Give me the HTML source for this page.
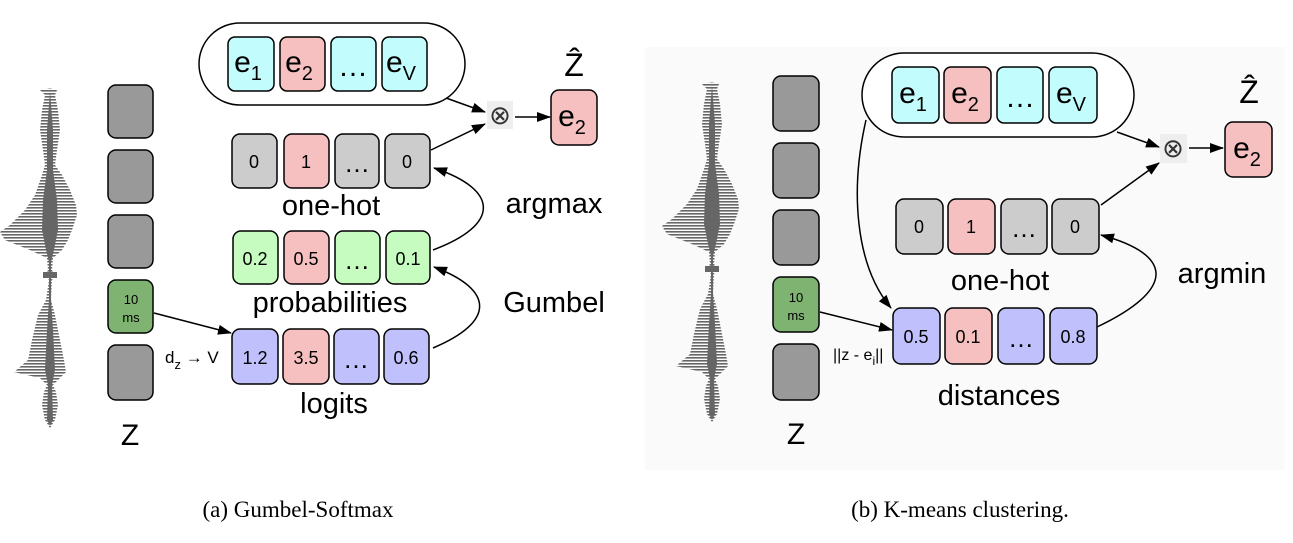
<!DOCTYPE html>
<html><head><meta charset="utf-8"><style>
html,body{margin:0;padding:0;background:#fff;}
svg{display:block;font-family:"Liberation Sans",sans-serif;}
</style></head><body>
<svg width="1293" height="543" viewBox="0 0 1293 543" xmlns="http://www.w3.org/2000/svg">
<defs>
<marker id="ar" markerWidth="14" markerHeight="10" refX="13" refY="5" orient="auto" markerUnits="userSpaceOnUse">
<path d="M0,0 L14,5 L0,10 z" fill="#000"/></marker>
<pattern id="wv" width="6" height="3" patternUnits="userSpaceOnUse"><rect width="6" height="1.6" fill="#666"/></pattern>
<g id="wave">
<polygon points="50,88 57,90 55,95 58,110 60,130 57,150 55,165 62,175 70,190 76,205 77,215 72,230 68,240 62,250 53,258 52,270 55,275 52,280 51,300 55,315 60,340 64,360 66,372 58,380 53,385 56,392 58,405 55,420 50,428 45,420 42,405 44,392 47,385 40,378 14,372 28,360 32,340 38,315 46,300 49,280 45,275 48,270 47,258 30,250 5,240 0,232 10,225 25,210 35,195 42,175 45,165 43,150 40,130 42,110 45,95 40,90" fill="url(#wv)"/>
<polygon points="50,92 53,130 53,170 57,200 58,230 54,250 51,262 51,300 53,330 55,370 52,385 53,420 50,426 47,420 48,385 45,370 47,330 49,300 49,262 46,250 42,230 43,200 47,170 47,130" fill="#666"/>
<rect x="43" y="272" width="14" height="6" fill="#666"/>
</g>
</defs>
<rect x="645" y="47" width="640" height="423" fill="#fafafa"/>

<!-- LEFT PANEL -->
<use href="#wave"/>
<g stroke="#000" stroke-width="1.5">
<rect x="108" y="85" width="45" height="53" rx="8" fill="#999"/>
<rect x="108" y="150" width="45" height="53" rx="8" fill="#999"/>
<rect x="108" y="215" width="45" height="53" rx="8" fill="#999"/>
<rect x="108" y="280" width="45" height="53" rx="8" fill="#7fb371"/>
<rect x="108" y="345" width="45" height="55" rx="8" fill="#999"/>
</g>
<text x="131" y="304" font-size="13" text-anchor="middle">10</text>
<text x="131" y="322" font-size="13" text-anchor="middle">ms</text>
<text x="130" y="445" font-size="30" text-anchor="middle">Z</text>

<rect x="199" y="23" width="266" height="82" rx="41" fill="#fff" stroke="#000" stroke-width="1.5"/>
<g stroke="#000" stroke-width="1.5">
<rect x="228" y="37" width="46" height="54" rx="7" fill="#c3fcfc"/>
<rect x="280" y="37" width="45" height="54" rx="7" fill="#f6c0c0"/>
<rect x="331" y="37" width="45" height="54" rx="7" fill="#c3fcfc"/>
<rect x="382" y="37" width="45" height="54" rx="7" fill="#c3fcfc"/>
</g>
<g font-size="30" text-anchor="middle">
<text x="248" y="72">e<tspan font-size="20" dy="8">1</tspan></text>
<text x="299" y="72">e<tspan font-size="20" dy="8">2</tspan></text>
<text x="353" y="76">…</text>
<text x="401" y="72">e<tspan font-size="20" dy="8">V</tspan></text>
</g>

<g stroke="#000" stroke-width="1.5">
<rect x="232" y="134" width="45" height="54" rx="8" fill="#ccc"/>
<rect x="284" y="134" width="45" height="54" rx="8" fill="#f6c0c0"/>
<rect x="335" y="134" width="44" height="54" rx="8" fill="#ccc"/>
<rect x="385" y="134" width="45" height="54" rx="8" fill="#ccc"/>
<rect x="233" y="231" width="45" height="53" rx="8" fill="#c6fcc0"/>
<rect x="284" y="231" width="45" height="53" rx="8" fill="#f6c0c0"/>
<rect x="335" y="231" width="45" height="53" rx="8" fill="#c6fcc0"/>
<rect x="386" y="231" width="44" height="53" rx="8" fill="#c6fcc0"/>
<rect x="232" y="329" width="46" height="55" rx="8" fill="#c0c0fc"/>
<rect x="283" y="329" width="46" height="55" rx="8" fill="#f6c0c0"/>
<rect x="334" y="329" width="45" height="55" rx="8" fill="#c0c0fc"/>
<rect x="384" y="329" width="45" height="55" rx="8" fill="#c0c0fc"/>
</g>
<g font-size="18" text-anchor="middle">
<text x="254" y="168">0</text><text x="306" y="168">1</text><text x="357" y="172" font-size="26">…</text><text x="407" y="168">0</text>
<text x="255" y="265">0.2</text><text x="306" y="265">0.5</text><text x="357" y="269" font-size="26">…</text><text x="408" y="265">0.1</text>
<text x="255" y="364">1.2</text><text x="306" y="364">3.5</text><text x="356" y="368" font-size="26">…</text><text x="406" y="364">0.6</text>
</g>
<g font-size="29" text-anchor="middle">
<text x="331" y="215">one-hot</text>
<text x="330" y="312">probabilities</text>
<text x="334" y="413">logits</text>
<text x="554" y="213">argmax</text>
<text x="554" y="312">Gumbel</text>
<text x="574" y="76" font-size="32">Ẑ</text>
</g>
<text x="165" y="363" font-size="17">d<tspan font-size="13" dy="6">z</tspan><tspan dy="-6"> → V</tspan></text>

<rect x="551" y="90" width="46" height="55" rx="8" fill="#f6c0c0" stroke="#000" stroke-width="1.5"/>
<text x="572" y="126" font-size="30" text-anchor="middle">e<tspan font-size="20" dy="8">2</tspan></text>
<rect x="487" y="101" width="26" height="28" fill="#eee"/>
<text x="500" y="124" font-size="26" text-anchor="middle" fill="#333">⊗</text>

<g fill="none" stroke="#000" stroke-width="1.5" marker-end="url(#ar)">
<line x1="446" y1="98" x2="485" y2="112"/>
<line x1="431" y1="150" x2="485" y2="124"/>
<line x1="515" y1="117" x2="550" y2="117"/>
<line x1="154" y1="313" x2="231" y2="333"/>
<path d="M433,250 C500,225 500,190 434,168"/>
<path d="M433,348 C495,322 495,290 434,267"/>
</g>

<!-- RIGHT PANEL -->
<use href="#wave" transform="translate(662,-6)"/>
<g stroke="#000" stroke-width="1.5">
<rect x="773" y="76" width="46" height="55" rx="8" fill="#999"/>
<rect x="773" y="143" width="46" height="55" rx="8" fill="#999"/>
<rect x="773" y="210" width="46" height="55" rx="8" fill="#999"/>
<rect x="773" y="277" width="46" height="55" rx="8" fill="#7fb371"/>
<rect x="773" y="344" width="46" height="56" rx="8" fill="#999"/>
</g>
<text x="796" y="302" font-size="13" text-anchor="middle">10</text>
<text x="796" y="320" font-size="13" text-anchor="middle">ms</text>
<text x="796" y="444" font-size="30" text-anchor="middle">Z</text>

<rect x="862" y="53" width="272" height="84" rx="42" fill="#fff" stroke="#000" stroke-width="1.5"/>
<g stroke="#000" stroke-width="1.5">
<rect x="892" y="67" width="47" height="56" rx="7" fill="#c3fcfc"/>
<rect x="944" y="67" width="47" height="56" rx="7" fill="#f6c0c0"/>
<rect x="997" y="67" width="46" height="56" rx="7" fill="#c3fcfc"/>
<rect x="1049" y="67" width="48" height="56" rx="7" fill="#c3fcfc"/>
</g>
<g font-size="30" text-anchor="middle">
<text x="913" y="103">e<tspan font-size="20" dy="8">1</tspan></text>
<text x="965" y="103">e<tspan font-size="20" dy="8">2</tspan></text>
<text x="1020" y="107">…</text>
<text x="1071" y="103">e<tspan font-size="20" dy="8">V</tspan></text>
</g>
<g stroke="#000" stroke-width="1.5">
<rect x="896" y="199" width="47" height="55" rx="8" fill="#ccc"/>
<rect x="948" y="199" width="47" height="55" rx="8" fill="#f6c0c0"/>
<rect x="1001" y="199" width="46" height="55" rx="8" fill="#ccc"/>
<rect x="1052" y="199" width="47" height="55" rx="8" fill="#ccc"/>
<rect x="893" y="308" width="47" height="56" rx="8" fill="#c0c0fc"/>
<rect x="945" y="308" width="47" height="56" rx="8" fill="#f6c0c0"/>
<rect x="998" y="308" width="46" height="56" rx="8" fill="#c0c0fc"/>
<rect x="1050" y="308" width="47" height="56" rx="8" fill="#c0c0fc"/>
</g>
<g font-size="18" text-anchor="middle">
<text x="919" y="233">0</text><text x="971" y="233">1</text><text x="1024" y="237" font-size="26">…</text><text x="1075" y="233">0</text>
<text x="916" y="343">0.5</text><text x="968" y="343">0.1</text><text x="1021" y="347" font-size="26">…</text><text x="1073" y="343">0.8</text>
</g>
<g font-size="29" text-anchor="middle">
<text x="1000" y="290">one-hot</text>
<text x="999" y="405">distances</text>
<text x="1222" y="283">argmin</text>
<text x="1249" y="103" font-size="32">Ẑ</text>
</g>
<text x="833" y="360" font-size="16">||z - e<tspan font-size="12" dy="5">i</tspan><tspan dy="-5">||</tspan></text>
<rect x="1225" y="122" width="47" height="55" rx="8" fill="#f6c0c0" stroke="#000" stroke-width="1.5"/>
<text x="1247" y="158" font-size="30" text-anchor="middle">e<tspan font-size="20" dy="8">2</tspan></text>
<rect x="1160" y="134" width="27" height="29" fill="#eee"/>
<text x="1173" y="157" font-size="26" text-anchor="middle" fill="#333">⊗</text>
<g fill="none" stroke="#000" stroke-width="1.5" marker-end="url(#ar)">
<line x1="1117" y1="132" x2="1159" y2="147"/>
<line x1="1101" y1="205" x2="1159" y2="163"/>
<line x1="1189" y1="148" x2="1223" y2="148"/>
<line x1="820" y1="312" x2="892" y2="330"/>
<path d="M1097,327 C1175,290 1175,255 1101,235"/>
<path d="M866,120 C850,190 855,265 891,308"/>
</g>

<g font-family="Liberation Serif,serif" font-size="23" text-anchor="middle">
<text x="298" y="517">(a) Gumbel-Softmax</text>
<text x="960" y="517">(b) K-means clustering.</text>
</g>
</svg>
</body></html>
